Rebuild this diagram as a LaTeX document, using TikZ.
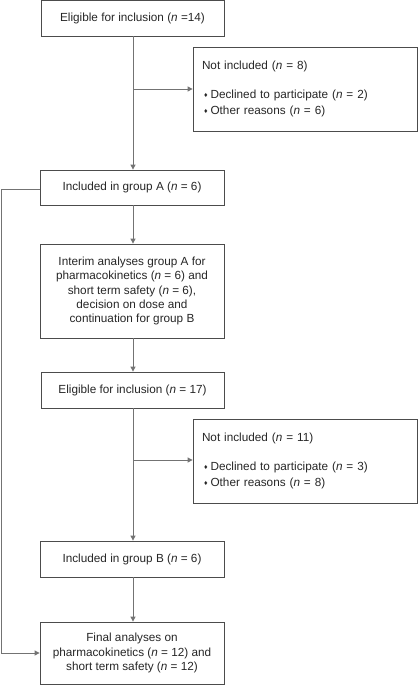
\documentclass[tikz,border=0pt]{standalone}
\usepackage{fontspec}
\setmainfont{Liberation Sans}
\usetikzlibrary{arrows.meta}
\newcommand{\nn}{\textit{n}}
\newcommand{\bul}{\hspace*{2bp}{\scriptsize\raisebox{0.2ex}{♦}}\hspace{3bp}}
\begin{document}
\begin{tikzpicture}[x=1bp,y=-1bp,
  box/.style={draw=black!70,line width=0.8bp,inner sep=0pt,align=center,font=\fontsize{11.8}{14.5}\selectfont,text=black!85},
  conn/.style={draw=black!55,line width=0.9bp},
  arr/.style={conn,-{Triangle[length=5bp,width=5bp]}}]
\useasboundingbox (0,0) rectangle (418,685);
\node[box,minimum width=183bp,minimum height=36bp] (e1) at (132.5,18) {Eligible for inclusion (\nn{} =14)};
\node[box,minimum width=224bp,minimum height=84bp,align=left,text width=206bp] (ni1) at (305,89) {Not included (\nn{} = 8)\\[14bp]\bul Declined to participate (\nn{} = 2)\\[1.5bp]\bul Other reasons (\nn{} = 6)};
\node[box,minimum width=184bp,minimum height=35bp] (ga) at (132,187.5) {Included in group A (\nn{} = 6)};
\node[box,minimum width=184bp,minimum height=94bp] (ia) at (132,291) {Interim analyses group A for\\pharmacokinetics (\nn{} = 6) and\\short term safety (\nn{} = 6),\\decision on dose and\\continuation for group B};
\node[box,minimum width=183bp,minimum height=36bp] (e2) at (132.5,390) {Eligible for inclusion (\nn{} = 17)};
\node[box,minimum width=224bp,minimum height=84bp,align=left,text width=206bp] (ni2) at (305,461) {Not included (\nn{} = 11)\\[14bp]\bul Declined to participate (\nn{} = 3)\\[1.5bp]\bul Other reasons (\nn{} = 8)};
\node[box,minimum width=184bp,minimum height=36bp] (gb) at (132,559) {Included in group B (\nn{} = 6)};
\node[box,minimum width=184bp,minimum height=62bp] (fa) at (132,653) {Final analyses on\\pharmacokinetics (\nn{} = 12) and\\short term safety (\nn{} = 12)};
\coordinate (j1) at (133,89);
\coordinate (j2) at (133,460);
\draw[arr] (e1.south -| j1) -- (ga.north -| j1);
\draw[arr] (j1) -- (j1 -| ni1.west);
\draw[arr] (ga.south -| j1) -- (ia.north -| j1);
\draw[arr] (ia.south -| j1) -- (e2.north -| j1);
\draw[arr] (e2.south -| j2) -- (gb.north -| j2);
\draw[arr] (j2) -- (j2 -| ni2.west);
\draw[arr] (gb.south -| j2) -- (fa.north -| j2);
\draw[arr] (ga.west |- 0,189) -- (1,189) -- (1,653) -- (fa.west |- 0,653);
\end{tikzpicture}
\end{document}
